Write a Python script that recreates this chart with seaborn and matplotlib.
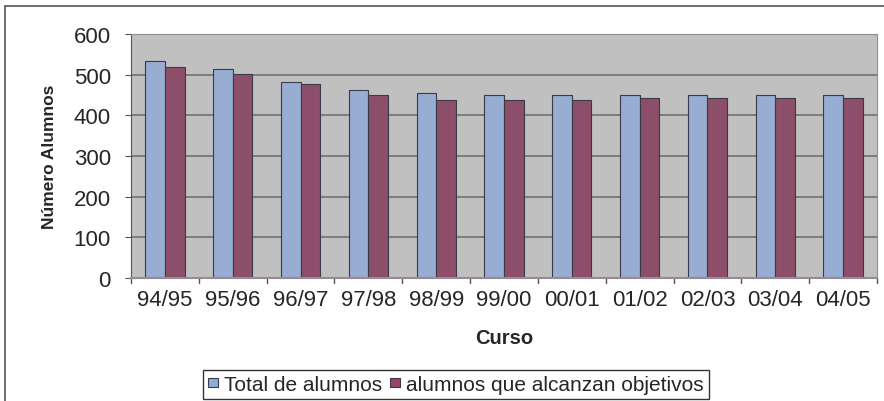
import numpy as np
import pandas as pd
import seaborn as sns
import matplotlib.pyplot as plt
from matplotlib.patches import Rectangle

cursos = ['94/95', '95/96', '96/97', '97/98', '98/99', '99/00',
          '00/01', '01/02', '02/03', '03/04', '04/05']
total = [534, 514, 483, 463, 456, 450, 450, 450, 450, 450, 450]
alcanzan = [520, 501, 476, 450, 437, 437, 437, 443, 443, 443, 443]
series = ['Total de alumnos', 'alumnos que alcanzan objetivos']

df = pd.DataFrame({'Curso': cursos * 2,
                   'valor': total + alcanzan,
                   'serie': [series[0]] * len(cursos) + [series[1]] * len(cursos)})

sns.set_style('white')
plt.rcParams['font.family'] = ['Liberation Sans', 'DejaVu Sans']

W, H = 884, 402
fig = plt.figure(figsize=(W / 100, H / 100), dpi=100)
ax = fig.add_axes([131 / W, 1 - 279 / H, (877 - 131) / W, (279 - 35) / H])
ax.set_facecolor('#C0C0C0')

sns.barplot(data=df, x='Curso', y='valor', hue='serie', ax=ax,
            palette=['#8FAADB', '#974467'], width=0.58,
            edgecolor='#3a3a4a', linewidth=0.8, legend=False)

ax.set_ylim(0, 600)
ax.set_xlim(-0.5, len(cursos) - 0.5)
ax.set_yticks(range(0, 601, 100))
ax.yaxis.grid(True, color='#707070', linewidth=1.2)
ax.set_axisbelow(True)
ax.tick_params(axis='y', labelsize=16, length=4.5, direction='out', left=True, pad=10, color='#555555')
ax.tick_params(axis='x', labelsize=16, length=0, pad=8)
for s in ['top', 'right']:
    ax.spines[s].set_color('#909090')
ax.spines['left'].set_color('#555555')
ax.spines['bottom'].set_color('#9a8a95')
ax.spines['bottom'].set_linewidth(1.5)
# separators between categories on x axis
for b in np.arange(-0.5, len(cursos), 1.0):
    ax.plot([b, b], [0, -12], color='#555555', lw=1, clip_on=False)

ax.set_xlabel('Curso', fontsize=14.5, fontweight='bold', labelpad=13)
ax.set_ylabel('Número Alumnos', fontsize=12.5, fontweight='bold', labelpad=12)

handles = [Rectangle((0, 0), 1, 1, facecolor=c, edgecolor='#3a3a4a', lw=0.8)
           for c in ['#8FAADB', '#974467']]
leg = fig.legend(handles, series, loc='upper center', ncol=2,
                 bbox_to_anchor=(456 / W, 1 - 371 / H), fontsize=15,
                 frameon=True, fancybox=False, edgecolor='black',
                 handlelength=0.48, handleheight=0.3, handletextpad=0.3,
                 columnspacing=0.35, borderpad=0.25, borderaxespad=0)
leg.get_frame().set_linewidth(1)

# outer chart frame
fig.patches.append(Rectangle((5 / W, -0.05), 1.2, 1.05 - 7 / H,
                             transform=fig.transFigure, fill=False,
                             edgecolor='#555555', lw=1.2))

fig.savefig('out.png', dpi=100)
